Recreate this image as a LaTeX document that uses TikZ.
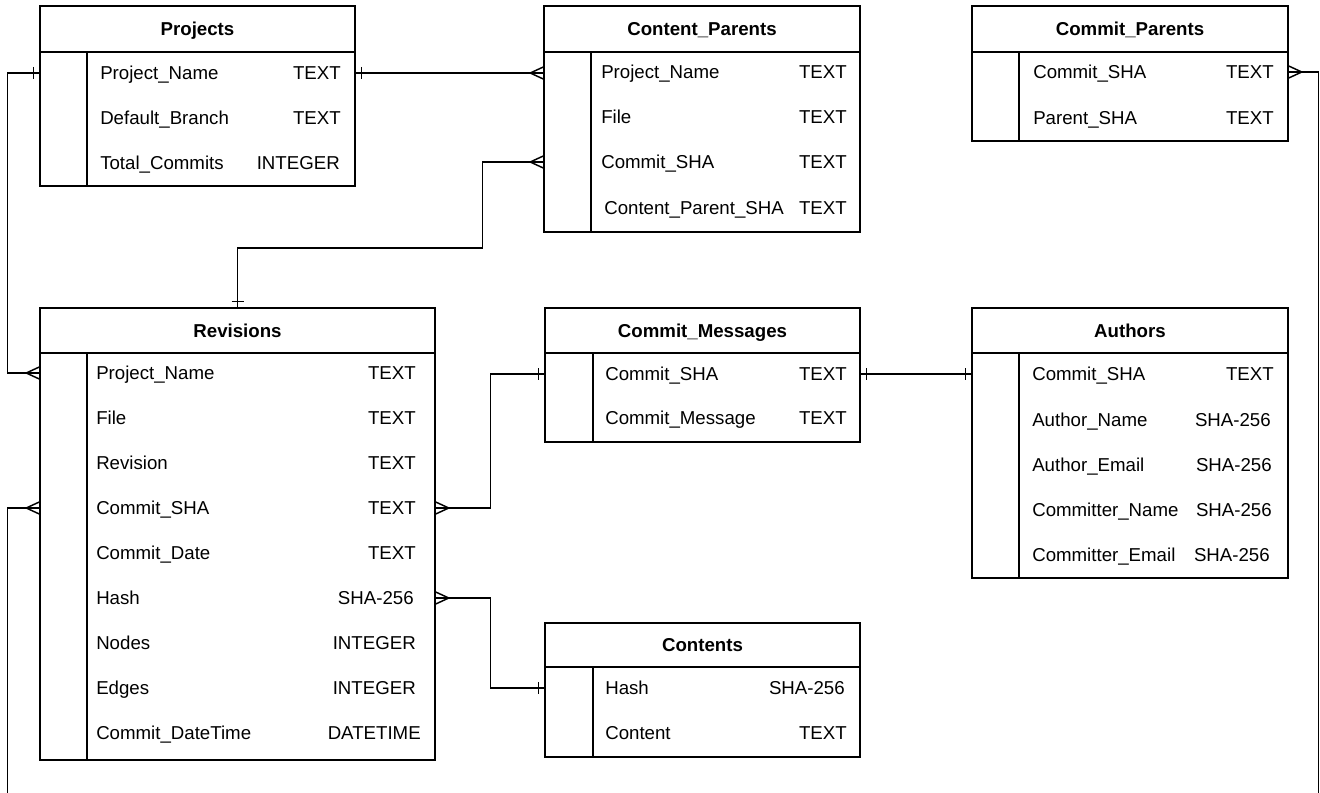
\documentclass[tikz,border=0pt]{standalone}
\usepackage{fontspec}
\setmainfont{Liberation Sans}
\usetikzlibrary{fit,calc}

\tikzset{
  box/.style={draw, line width=1.1pt, inner sep=0pt},
  rule/.style={line width=1.1pt},
  conn/.style={line width=1.1pt},
  title/.style={font=\fontsize{14}{17}\selectfont\bfseries, inner sep=0pt, text height=10pt, text depth=0pt},
  field/.style={font=\fontsize{14}{17}\selectfont, inner sep=0pt, text height=10pt, text depth=0pt},
}

% table frame: name, x1, y1, x2, y2, header bottom, divider x, title
\newcommand\ertable[8]{%
  \node[box, fit={(#2,#3)(#4,#5)}] (#1) {};
  \draw[rule] (#2,#6) -- (#4,#6);
  \draw[rule] (#7,#6) -- (#7,#5);
  \node[title] (#1-title) at ({(#2+#4)/2},{(#3+#6)/2}) {#8};
}
% row: name, field x, y, field text, type right x, type text
\newcommand\errow[6]{%
  \node[field, anchor=west] (#1) at (#2,#3) {#4};
  \node[field, anchor=east] (#1-t) at (#5,#3) {#6};
}
% end markers
\newcommand\manyW[1]{\draw[conn] #1 ++(-13,0) -- ++(13,-6) ++(-13,6) -- ++(13,6);}
\newcommand\manyE[1]{\draw[conn] #1 ++(13,0) -- ++(-13,-6) ++(13,6) -- ++(-13,6);}
\newcommand\oneW[1]{\draw[conn] #1 ++(-6,-6) -- ++(0,12);}
\newcommand\oneE[1]{\draw[conn] #1 ++(6,-6) -- ++(0,12);}
\newcommand\oneN[1]{\draw[conn] #1 ++(-6,-6) -- ++(12,0);}

\begin{document}
\begin{tikzpicture}[x=0.75pt,y=-0.75pt]
\useasboundingbox (0,0) rectangle (1320,792);
\clip (0,0) rectangle (1320,792);
\fill[white] (0,0) rectangle (1320,792);

% Projects
\ertable{proj}{40}{6}{355}{186}{52}{87}{Projects}
\errow{proj1}{100}{73}{Project\_Name}{341}{TEXT}
\errow{proj2}{100}{118}{Default\_Branch}{341}{TEXT}
\errow{proj3}{100}{163}{Total\_Commits}{340}{INTEGER}

% Content_Parents
\ertable{cp}{544}{6}{860}{232}{52}{591}{Content\_Parents}
\errow{cp1}{601}{72}{Project\_Name}{847}{TEXT}
\errow{cp2}{601}{117}{File}{847}{TEXT}
\errow{cp3}{601}{162}{Commit\_SHA}{847}{TEXT}
\errow{cp4}{604}{208}{Content\_Parent\_SHA}{847}{TEXT}

% Commit_Parents
\ertable{cpar}{972}{6}{1288}{141}{52}{1019}{Commit\_Parents}
\errow{cpar1}{1033}{72}{Commit\_SHA}{1274}{TEXT}
\errow{cpar2}{1033}{118}{Parent\_SHA}{1274}{TEXT}

% Revisions
\ertable{rev}{40}{308}{435}{760}{353}{87}{Revisions}
\errow{rev1}{96}{373}{Project\_Name}{416}{TEXT}
\errow{rev2}{96}{418}{File}{416}{TEXT}
\errow{rev3}{96}{463}{Revision}{416}{TEXT}
\errow{rev4}{96}{508}{Commit\_SHA}{416}{TEXT}
\errow{rev5}{96}{553}{Commit\_Date}{416}{TEXT}
\errow{rev6}{96}{598}{Hash}{414}{SHA-256}
\errow{rev7}{96}{643}{Nodes}{416}{INTEGER}
\errow{rev8}{96}{688}{Edges}{416}{INTEGER}
\errow{rev9}{96}{733}{Commit\_DateTime}{421}{DATETIME}

% Commit_Messages
\ertable{cm}{545}{308}{860}{442}{353}{593}{Commit\_Messages}
\errow{cm1}{605}{374}{Commit\_SHA}{847}{TEXT}
\errow{cm2}{605}{418}{Commit\_Message}{847}{TEXT}

% Authors
\ertable{au}{972}{308}{1288}{578}{353}{1019}{Authors}
\errow{au1}{1032}{374}{Commit\_SHA}{1274}{TEXT}
\errow{au2}{1032}{420}{Author\_Name}{1271}{SHA-256}
\errow{au3}{1032}{465}{Author\_Email}{1272}{SHA-256}
\errow{au4}{1032}{510}{Committer\_Name}{1272}{SHA-256}
\errow{au5}{1032}{555}{Committer\_Email}{1270}{SHA-256}

% Contents
\ertable{ct}{545}{623}{860}{757}{667}{593}{Contents}
\errow{ct1}{605}{688}{Hash}{845}{SHA-256}
\errow{ct2}{605}{733}{Content}{847}{TEXT}

% Connectors
% Projects -> Revisions (Project_Name)
\draw[conn] (proj.west |- proj1.west) -- ++(-32,0) |- (rev.west |- rev1.west);
\oneW{(proj.west |- proj1.west)}
\manyW{(rev.west |- rev1.west)}

% Projects -> Content_Parents
\draw[conn] (proj.east |- proj1.west) -- (cp.west |- proj1.west);
\oneE{(proj.east |- proj1.west)}
\manyW{(cp.west |- proj1.west)}

% Content_Parents Commit_SHA -> Revisions top
\draw[conn] (cp.west |- cp3.west) -- ++(-61,0) -- ++(0,86) -| (rev.north);
\manyW{(cp.west |- cp3.west)}
\oneN{(rev.north)}

% Revisions Commit_SHA -> Commit_Messages
\draw[conn] (rev.east |- rev4.west) -- ++(55,0) |- (cm.west |- cm1.west);
\manyE{(rev.east |- rev4.west)}
\oneW{(cm.west |- cm1.west)}

% Commit_Messages -> Authors
\draw[conn] (cm.east |- cm1.west) -- (au.west |- cm1.west);
\oneE{(cm.east |- cm1.west)}
\oneW{(au.west |- cm1.west)}

% Revisions Hash -> Contents
\draw[conn] (rev.east |- rev6.west) -- ++(55,0) |- (ct.west |- ct1.west);
\manyE{(rev.east |- rev6.west)}
\oneW{(ct.west |- ct1.west)}

% Revisions Commit_SHA -> Commit_Parents (around the bottom)
\draw[conn] (rev.west |- rev4.west) -- ++(-32,0) -- ++(0,320)
  -| ($(cpar.east |- cpar1.west)+(30,0)$) -- (cpar.east |- cpar1.west);
\manyW{(rev.west |- rev4.west)}
\manyE{(cpar.east |- cpar1.west)}

\end{tikzpicture}
\end{document}
